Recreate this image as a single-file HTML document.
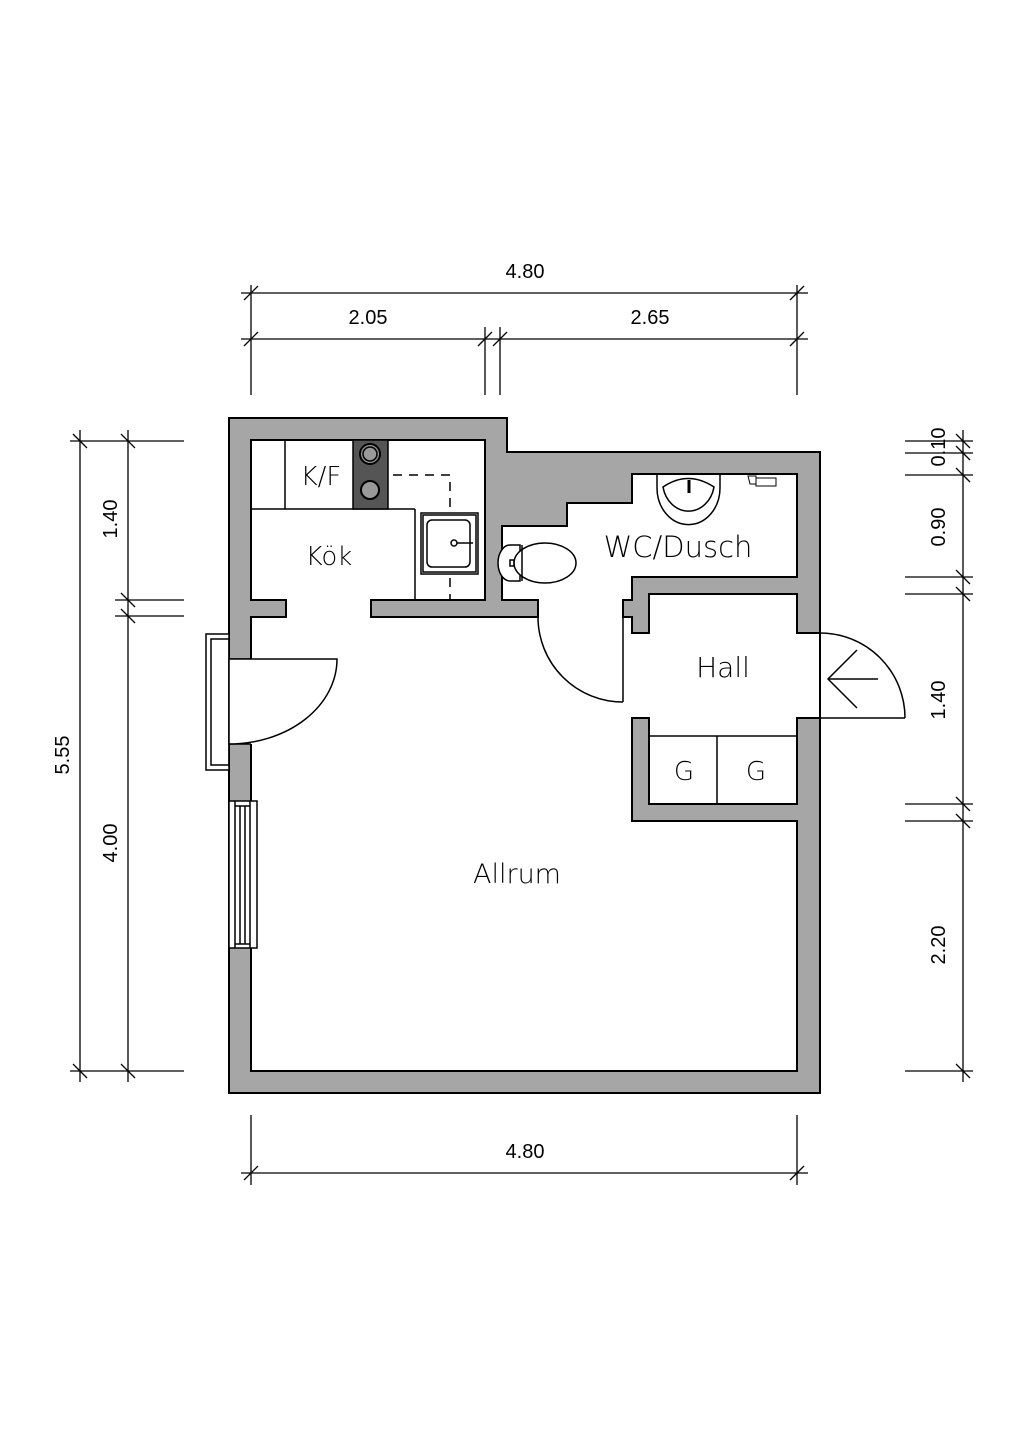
<!DOCTYPE html>
<html><head><meta charset="utf-8"><style>
html,body{margin:0;padding:0;background:#fff;}
svg{display:block}
.d{font-family:"Liberation Sans",sans-serif;font-size:20px;fill:#000}
.l{font-family:"DejaVu Sans","Liberation Sans",sans-serif;font-size:26px;fill:#000;font-weight:300}
</style></head><body>
<svg width="1024" height="1448" viewBox="0 0 1024 1448" xmlns="http://www.w3.org/2000/svg">
<g stroke="#000" stroke-width="1.5" fill="none">
<polygon points="229,418 507,418 507,452 820,452 820,1093 229,1093" fill="#a6a6a6" stroke-width="2"/>
<polygon fill="#fff" stroke-width="2" points="251,440 485,440 485,600 371,600 371,617 538,617 538,600 502,600 502,526 567,526 567,503 632,503 632,474 797,474 797,577 632,577 632,600 623,600 623,617 632,617 632,633 649,633 649,594 797,594 797,633 820,633 820,718 797,718 797,804 649,804 649,718 632,718 632,821 797,821 797,1071 251,1071 251,617 286,617 286,600 251,600"/>
<rect x="228" y="659" width="24" height="85" fill="#fff" stroke="none"/>
<line x1="229" y1="659" x2="251" y2="659"/><line x1="229" y1="744" x2="251" y2="744"/>
<rect x="206" y="634" width="23" height="136" fill="#fff"/>
<rect x="211" y="639" width="18" height="126"/>
<path d="M229 659 H337 A108 85 0 0 1 229 744 Z" fill="#fff"/>
<rect x="229" y="801" width="28" height="147" fill="#fff"/>
<line x1="235" y1="801" x2="235" y2="948"/><line x1="240" y1="806" x2="240" y2="944"/><line x1="245" y1="806" x2="245" y2="944"/>
<line x1="235" y1="806" x2="250" y2="806"/><line x1="235" y1="944" x2="250" y2="944"/><line x1="250" y1="801" x2="250" y2="948"/>
<line x1="251" y1="509" x2="415" y2="509"/><line x1="415" y1="509" x2="415" y2="600"/>
<line x1="285" y1="440" x2="285" y2="509"/>
<rect x="353" y="440" width="35" height="69" fill="#555"/>
<circle cx="370" cy="454" r="10" fill="#999" stroke-width="2"/><circle cx="370" cy="454" r="7"/>
<circle cx="370" cy="490" r="9" fill="#999" stroke-width="2"/>
<path d="M393 475 H450 V600" stroke-dasharray="9,7"/>
<rect x="421" y="513" width="57" height="61" fill="#fff"/>
<rect x="423" y="515" width="53" height="57"/>
<rect x="427" y="520" width="43" height="47" rx="5"/>
<circle cx="454" cy="543" r="3"/><line x1="457" y1="543" x2="473" y2="543"/>
<path d="M520 545 H510 A12 18 0 0 0 510 581 H520 Z" fill="#fff"/>
<ellipse cx="545" cy="563" rx="31" ry="20" fill="#fff"/>
<line x1="522" y1="545" x2="522" y2="581"/>
<rect x="510" y="560" width="4" height="6"/>
<path d="M657 474 V488 A31 36 0 0 0 720 488 V474"/>
<path d="M663 487 A26 30 0 0 0 714 487 Q688 470 663 487 Z"/>
<line x1="689" y1="480" x2="689" y2="493" stroke-width="3"/>
<path d="M748 476 h8 v8 h-6 z M756 478 h20 v8 h-20z" stroke-width="1"/>
<line x1="623" y1="617" x2="623" y2="702"/>
<path d="M538 617 A85 85 0 0 0 623 702"/>
<line x1="649" y1="736" x2="797" y2="736"/><line x1="717" y1="736" x2="717" y2="804"/>
<line x1="820" y1="718" x2="905" y2="718"/>
<path d="M820 633 A85 85 0 0 1 905 718"/>
<line x1="878" y1="679" x2="828" y2="679"/><polyline points="857,650 828,679 857,708"/>
<g stroke-width="1.3">
<line x1="241" y1="293" x2="808" y2="293"/><line x1="241" y1="339" x2="808" y2="339"/>
<line x1="251" y1="285" x2="251" y2="395"/><line x1="797" y1="285" x2="797" y2="395"/>
<line x1="485" y1="327" x2="485" y2="395"/><line x1="500" y1="327" x2="500" y2="395"/>
<line x1="241" y1="1173" x2="808" y2="1173"/>
<line x1="251" y1="1115" x2="251" y2="1185"/><line x1="797" y1="1115" x2="797" y2="1185"/>
<line x1="80" y1="430" x2="80" y2="1082"/><line x1="128" y1="430" x2="128" y2="1082"/>
<line x1="70" y1="441" x2="184" y2="441"/><line x1="115" y1="600" x2="184" y2="600"/>
<line x1="115" y1="616" x2="184" y2="616"/><line x1="70" y1="1071" x2="184" y2="1071"/>
<line x1="963" y1="430" x2="963" y2="1082"/>
<line x1="905" y1="441" x2="973" y2="441"/><line x1="905" y1="453" x2="973" y2="453"/>
<line x1="905" y1="475" x2="973" y2="475"/><line x1="905" y1="577" x2="973" y2="577"/>
<line x1="905" y1="594" x2="973" y2="594"/><line x1="905" y1="804" x2="973" y2="804"/>
<line x1="905" y1="821" x2="973" y2="821"/><line x1="905" y1="1071" x2="973" y2="1071"/>
<path d="M244 300 l14 -14 M790 300 l14 -14 M244 346 l14 -14 M478 346 l14 -14 M493 346 l14 -14 M790 346 l14 -14 M244 1180 l14 -14 M790 1180 l14 -14"/>
<path d="M73 434 l14 14 M121 434 l14 14 M121 593 l14 14 M121 609 l14 14 M73 1064 l14 14 M121 1064 l14 14"/>
<path d="M956 434 l14 14 M956 446 l14 14 M956 468 l14 14 M956 570 l14 14 M956 587 l14 14 M956 797 l14 14 M956 814 l14 14 M956 1064 l14 14"/>
</g>
</g>
<g class="d">
<text x="525" y="278" text-anchor="middle">4.80</text>
<text x="368" y="324" text-anchor="middle">2.05</text>
<text x="650" y="324" text-anchor="middle">2.65</text>
<text x="525" y="1158" text-anchor="middle">4.80</text>
<text transform="translate(117,519) rotate(-90)" text-anchor="middle">1.40</text>
<text transform="translate(69,755) rotate(-90)" text-anchor="middle">5.55</text>
<text transform="translate(117,843) rotate(-90)" text-anchor="middle">4.00</text>
<text transform="translate(945,447) rotate(-90)" text-anchor="middle">0.10</text>
<text transform="translate(945,527) rotate(-90)" text-anchor="middle">0.90</text>
<text transform="translate(945,700) rotate(-90)" text-anchor="middle">1.40</text>
<text transform="translate(945,945) rotate(-90)" text-anchor="middle">2.20</text>
</g>
<g class="l">
<text x="321" y="485" text-anchor="middle">K/F</text>
<text x="329" y="565" text-anchor="middle">Kök</text>
<text x="678" y="557" text-anchor="middle" style="font-size:29px">WC/Dusch</text>
<text x="723" y="677" text-anchor="middle" style="font-size:28px">Hall</text>
<text x="684" y="780" text-anchor="middle">G</text>
<text x="756" y="780" text-anchor="middle">G</text>
<text x="517" y="883" text-anchor="middle" style="font-size:27px">Allrum</text>
</g>
</svg>
</body></html>
